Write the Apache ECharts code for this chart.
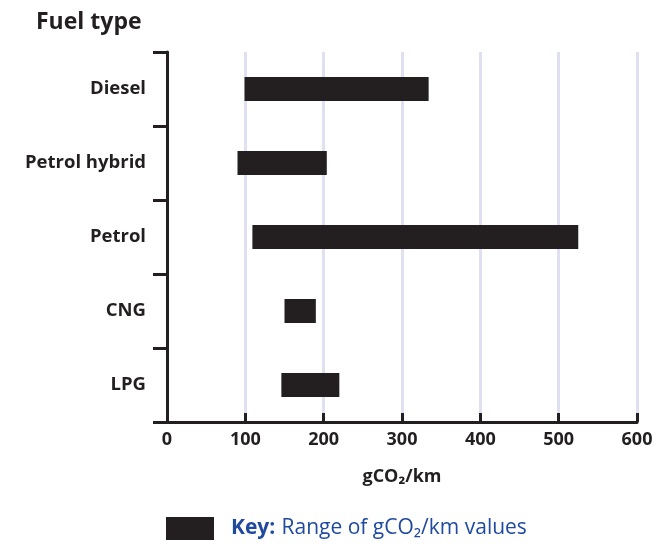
<!DOCTYPE html>
<html>
<head>
<meta charset="utf-8">
<script src="https://cdn.jsdelivr.net/npm/echarts@6/dist/echarts.min.js"></script>
<style>html,body{margin:0;padding:0;background:#fff}#c{width:659px;height:547px}</style>
</head>
<body>
<div id="c"></div>
<script>
var categories = ['Diesel', 'Petrol hybrid', 'Petrol', 'CNG', 'LPG'];
var minValues = [99, 90, 109, 150, 146];
var maxValues = [334, 204, 525, 190, 220];
var xTicks = [0, 100, 200, 300, 400, 500, 600];

var FONT = '"Open Sans", "Noto Sans", sans-serif';
var INK = '#231f20';
var chart = echarts.init(document.getElementById('c'), null, {renderer: 'canvas'});
var rangeData = maxValues.map(function (v, i) { return v - minValues[i]; });

chart.setOption({
  animation: false,
  backgroundColor: '#ffffff',
  textStyle: {fontFamily: FONT},
  title: {
    text: 'Fuel type', left: 31, top: 6,
    textStyle: {fontFamily: FONT, fontWeight: 'bold', fontSize: 23, color: INK}
  },
  grid: {left: 167, right: 22, top: 52, bottom: 125, containLabel: false},
  legend: {
    left: 161, top: 512, itemWidth: 48, itemHeight: 23, itemGap: 10,
    data: [{name: 'Range of gCO₂/km values', icon: 'rect'}],
    formatter: function (n) { return '{k|Key:}  {n|' + n + '}'; },
    textStyle: {
      padding: [0, 0, 0, 12],
      rich: {
        k: {fontFamily: FONT, fontWeight: 'bold', fontSize: 21, color: '#1f4aa0'},
        n: {fontFamily: FONT, fontSize: 21, color: '#1f4aa0'}
      }
    }
  },
  xAxis: {
    type: 'value', min: 0, max: 600, interval: 100,
    name: 'gCO₂/km', nameLocation: 'middle', nameGap: 46,
    nameTextStyle: {fontFamily: FONT, fontWeight: 'bold', fontSize: 18, color: INK},
    axisLine: {show: true, lineStyle: {color: INK, width: 3}},
    axisTick: {show: true, inside: true, length: 9, lineStyle: {color: INK, width: 3}},
    axisLabel: {
      fontFamily: FONT, fontWeight: 'bold', fontSize: 18, color: INK, margin: 9,
      formatter: function (v) { return xTicks.indexOf(v) >= 0 ? String(v) : ''; }
    },
    splitLine: {show: true, lineStyle: {color: '#dfe0f1', width: 3}}
  },
  yAxis: {
    type: 'category', data: categories, inverse: true,
    axisLine: {show: true, lineStyle: {color: INK, width: 3}},
    axisTick: {show: true, length: 14, lineStyle: {color: INK, width: 3}},
    axisLabel: {fontFamily: FONT, fontWeight: 'bold', fontSize: 18.5, color: INK, margin: 21},
    splitLine: {show: false}
  },
  series: [
    {
      name: 'base', type: 'bar', stack: 'r', data: minValues,
      itemStyle: {color: 'transparent'}, barWidth: 24, silent: true
    },
    {
      name: 'Range of gCO₂/km values', type: 'bar', stack: 'r', data: rangeData,
      itemStyle: {color: INK}, barWidth: 24
    }
  ]
});
</script>
</body>
</html>
